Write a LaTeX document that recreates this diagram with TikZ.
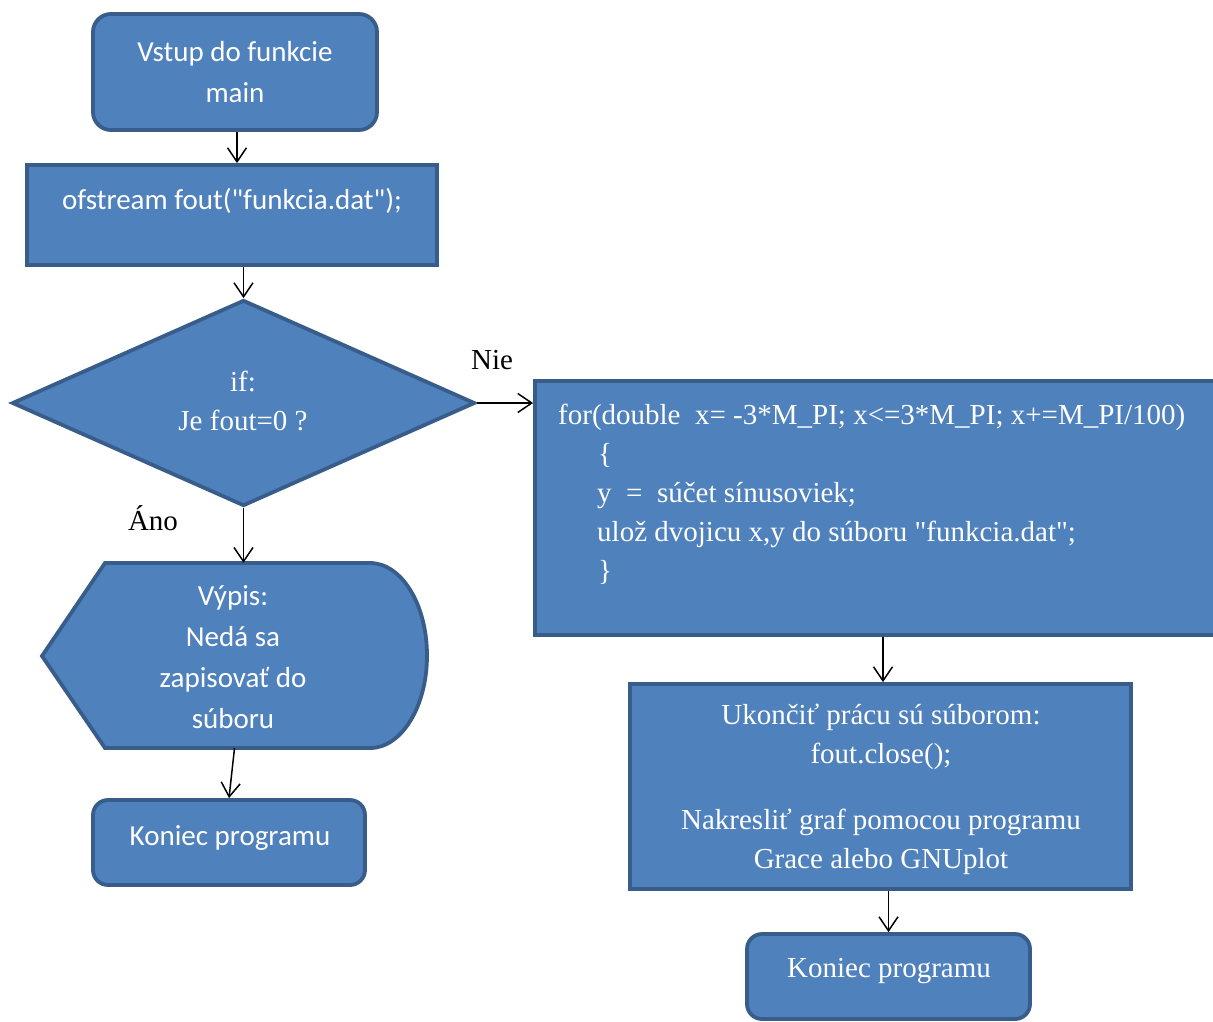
\documentclass[tikz,border=0pt]{standalone}
\usepackage{fontspec}
\setmainfont{Liberation Serif}
\newfontfamily\serif{Liberation Serif}
\newfontfamily\calib{Carlito}
\usetikzlibrary{arrows.meta,calc,shapes.geometric}
\definecolor{boxfill}{HTML}{4F81BD}
\definecolor{boxline}{HTML}{385D8A}

\begin{document}
\begin{tikzpicture}[x=1pt,y=-1pt,
  shapebox/.style={draw=boxline, fill=boxfill, line width=3.8pt, inner sep=0pt},
  roundbox/.style={shapebox, rounded corners=18pt},
  lbl/.style={text=white, align=center, inner sep=0pt},
  cal/.style={font=\calib\fontsize{29}{41}\selectfont},
  tms/.style={font=\serif\fontsize{29}{39}\selectfont},
  note/.style={text=black, inner sep=0pt, font=\serif\fontsize{29}{39}\selectfont},
  arr/.style={-{Straight Barb[length=14pt,width=19pt]}, line width=1.5pt},
]
\useasboundingbox (0,0) rectangle (1213,1021);
\clip (0,0) rectangle (1213,1021);

% left column
\node[roundbox, minimum width=284pt, minimum height=116pt] (start) at (235,72) {};
\node[lbl, cal] (start-t) at (235,72) {Vstup do funkcie\\main};

\node[shapebox, minimum width=410pt, minimum height=100pt] (open) at (232,215) {};
\node[lbl, cal] (open-t) at (232,201) {ofstream fout("funkcia.dat");};

\node[shapebox, diamond, minimum width=463pt, minimum height=206pt] (dec) at (243.5,403) {};
\node[lbl, tms] (dec-t) at (243,401) {if:\\Je fout=0 ?};

\node[inner sep=0pt, minimum width=385pt, minimum height=185pt] (disp) at (234.5,655.5) {};
\draw[shapebox] (42,656) -- (105,563) -- (370,563)
  arc[start angle=90, end angle=-90, x radius=57pt, y radius=92.5pt]
  -- (105,748) -- cycle;
\node[lbl, cal] (disp-t) at (233,657) {Výpis:\\Nedá sa\\zapisovať do\\súboru};

\node[roundbox, rounded corners=15pt, minimum width=272pt, minimum height=85pt] (kon1) at (229,842.5) {};
\node[lbl, cal] (kon1-t) at (230,838) {Koniec programu};

% right column
\node[shapebox, minimum width=690pt, minimum height=254pt] (loop) at (880,508) {};
\node[lbl, tms, align=left, anchor=north west] (loop-t) at (558,404)
  {for(double\ \ x= -3*M\_PI; x<=3*M\_PI; x+=M\_PI/100)\\
   \hspace*{40pt}\{\\
   \hspace*{39pt}y\ \ =\ \ súčet sínusoviek;\\
   \hspace*{39pt}ulož dvojicu x,y do súboru "funkcia.dat";\\
   \hspace*{40pt}\}};

\node[shapebox, minimum width=501pt, minimum height=205pt] (close) at (880.5,786.5) {};
\node[lbl, tms] (close-t) at (881,789.5)
  {Ukončiť prácu sú súborom:\\fout.close();\\[27pt]Nakresliť graf pomocou programu\\Grace alebo GNUplot};

\node[roundbox, rounded corners=15pt, minimum width=283pt, minimum height=85pt] (kon2) at (888.5,976.5) {};
\node[lbl, tms] (kon2-t) at (889,971) {Koniec programu};

% branch labels
\node[note] (nie) at (492,360) {Nie};
\node[note] (ano) at (153,518) {Áno};

% connectors
\draw[arr] ($(start.south)+(2,0)$) -- ($(start.south |- open.north)+(2,0)$);
\draw[arr] (open.south -| dec.north) -- (dec.north);
\draw[arr] (dec.east) -- (loop.west |- dec.east);
\draw[arr] (dec.south) -- (dec.south |- disp.north);
\draw[arr] (disp.south) -- (kon1.north);
\draw[arr] ($(loop.south)+(3,0)$) -- ($(loop.south |- close.north)+(3,0)$);
\draw[arr] (kon2.north |- close.south) -- (kon2.north);
\end{tikzpicture}
\end{document}
